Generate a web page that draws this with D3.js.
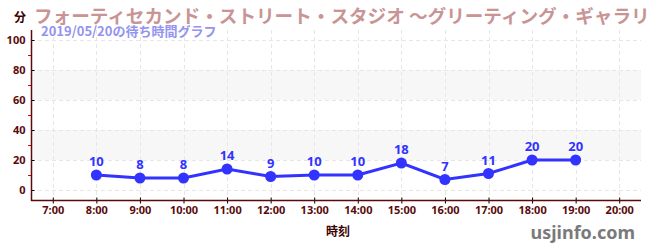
<!DOCTYPE html>
<html>
<head>
<meta charset="utf-8">
<script src="https://cdn.jsdelivr.net/npm/d3@7"></script>
<style>
  html, body { margin: 0; padding: 0; background: #fff; overflow: hidden; }
  svg { display: block; font-family: "Noto Sans CJK JP", "Noto Sans", sans-serif; }
</style>
</head>
<body>
<div id="app"></div>
<script>
const hours = [8, 9, 10, 11, 12, 13, 14, 15, 16, 17, 18, 19];
const waits = [10, 8, 8, 14, 9, 10, 10, 18, 7, 11, 20, 20];
const xTicks = [7, 8, 9, 10, 11, 12, 13, 14, 15, 16, 17, 18, 19, 20];
const yTicks = [0, 20, 40, 60, 80, 100];
const yMinorTicks = [10, 30, 50, 70, 90];
const bands = [[20, 40], [60, 80]];

const title = 'フォーティセカンド・ストリート・スタジオ ～グリーティング・ギャラリー';
const subtitle = '2019/05/20の待ち時間グラフ';

const WIDTH = 650;
const HEIGHT = 250;
const AXIS = '#5a0a0a';
const LINE = '#3333ff';

const plot = { left: 31, right: 641, top: 30, bottom: 200 };

const svg = d3.select('#app').append('svg')
  .attr('width', WIDTH)
  .attr('height', HEIGHT);

const x = d3.scaleLinear().domain([6.5, 20.5]).range([plot.left, plot.right]);
const y = d3.scaleLinear().domain([0, 100]).range([190, 40]);

// alternate bands
svg.append('g').selectAll('rect')
  .data(bands)
  .join('rect')
  .attr('x', plot.left)
  .attr('width', plot.right - plot.left)
  .attr('y', d => y(d[1]))
  .attr('height', d => y(d[0]) - y(d[1]))
  .attr('fill', '#f7f7f7');

// grid
const grid = svg.append('g')
  .attr('stroke', '#e6e6e6')
  .attr('stroke-dasharray', '4,3')
  .attr('stroke-width', 1);

grid.selectAll('line.h')
  .data(yTicks)
  .join('line')
  .attr('class', 'h')
  .attr('x1', plot.left)
  .attr('x2', plot.right)
  .attr('y1', d => Math.round(y(d)) + 0.5)
  .attr('y2', d => Math.round(y(d)) + 0.5);

grid.selectAll('line.v')
  .data(xTicks)
  .join('line')
  .attr('class', 'v')
  .attr('x1', d => Math.round(x(d)) + 0.5)
  .attr('x2', d => Math.round(x(d)) + 0.5)
  .attr('y1', plot.top)
  .attr('y2', plot.bottom);

// y axis
const yAxis = svg.append('g')
  .attr('transform', `translate(${plot.left + 0.5},0)`)
  .call(d3.axisLeft(y).tickValues(yTicks).tickSize(3).tickPadding(3));
yAxis.select('.domain').remove();
yAxis.selectAll('.tick line').attr('x2', 3).attr('stroke', '#000');
yAxis.selectAll('.tick text')
  .attr('fill', AXIS)
  .attr('font-size', 11)
  .attr('font-weight', 'bold')
  .attr('font-family', '"Noto Sans", sans-serif');

svg.append('g').selectAll('line')
  .data(yMinorTicks)
  .join('line')
  .attr('x1', plot.left - 3)
  .attr('x2', plot.left)
  .attr('y1', d => Math.round(y(d)) + 0.5)
  .attr('y2', d => Math.round(y(d)) + 0.5)
  .attr('stroke', '#e00000');

svg.append('line')
  .attr('x1', plot.left + 0.5).attr('x2', plot.left + 0.5)
  .attr('y1', plot.top).attr('y2', plot.bottom + 1)
  .attr('stroke', AXIS).attr('stroke-width', 1.5);

// x axis
const xAxis = svg.append('g')
  .attr('transform', `translate(0,${plot.bottom + 0.5})`)
  .call(d3.axisBottom(x).tickValues(xTicks).tickFormat(d => d + ':00').tickSize(3).tickPadding(3));
xAxis.select('.domain').remove();
xAxis.selectAll('.tick line').attr('y1', -3).attr('y2', 3).attr('stroke', '#000');
xAxis.selectAll('.tick text')
  .attr('fill', AXIS)
  .attr('font-size', 11)
  .attr('font-weight', 'bold')
  .attr('font-family', '"Noto Sans", sans-serif');

svg.append('line')
  .attr('x1', plot.left).attr('x2', plot.right)
  .attr('y1', plot.bottom + 0.5).attr('y2', plot.bottom + 0.5)
  .attr('stroke', AXIS).attr('stroke-width', 1.5);

// series
const pts = hours.map((h, i) => [h, waits[i]]);

svg.append('path')
  .datum(pts)
  .attr('fill', 'none')
  .attr('stroke', LINE)
  .attr('stroke-width', 3)
  .attr('d', d3.line().x(d => x(d[0])).y(d => y(d[1])));

svg.append('g').selectAll('circle')
  .data(pts)
  .join('circle')
  .attr('cx', d => x(d[0]))
  .attr('cy', d => y(d[1]))
  .attr('r', 5.5)
  .attr('fill', LINE);

svg.append('g').selectAll('text')
  .data(pts)
  .join('text')
  .attr('x', d => x(d[0]))
  .attr('y', d => y(d[1]) - 9)
  .attr('text-anchor', 'middle')
  .attr('font-size', 13)
  .attr('font-weight', 'bold')
  .attr('font-family', '"Noto Sans", sans-serif')
  .attr('fill', LINE)
  .text(d => d[1]);

// titles
svg.append('text')
  .attr('x', 14).attr('y', 22)
  .attr('font-size', 12).attr('font-weight', 'bold')
  .attr('fill', '#3a0000')
  .text('分');

svg.append('text')
  .attr('x', 34).attr('y', 23)
  .attr('font-size', 18.6).attr('font-weight', 'bold')
  .attr('fill', '#c99494')
  .text(title);

svg.append('text')
  .attr('x', 41).attr('y', 36)
  .attr('font-size', 13).attr('font-weight', 'bold')
  .attr('fill', '#9494f0')
  .text(subtitle);

svg.append('text')
  .attr('x', 338).attr('y', 236)
  .attr('text-anchor', 'middle')
  .attr('font-size', 12).attr('font-weight', 'bold')
  .attr('fill', '#3a0000')
  .text('時刻');

svg.append('text')
  .attr('x', 635).attr('y', 239)
  .attr('text-anchor', 'end')
  .attr('font-size', 18).attr('font-weight', 'bold')
  .attr('font-family', '"Noto Sans", sans-serif')
  .attr('fill', '#7a7a7a')
  .text('usjinfo.com');
</script>
</body>
</html>
